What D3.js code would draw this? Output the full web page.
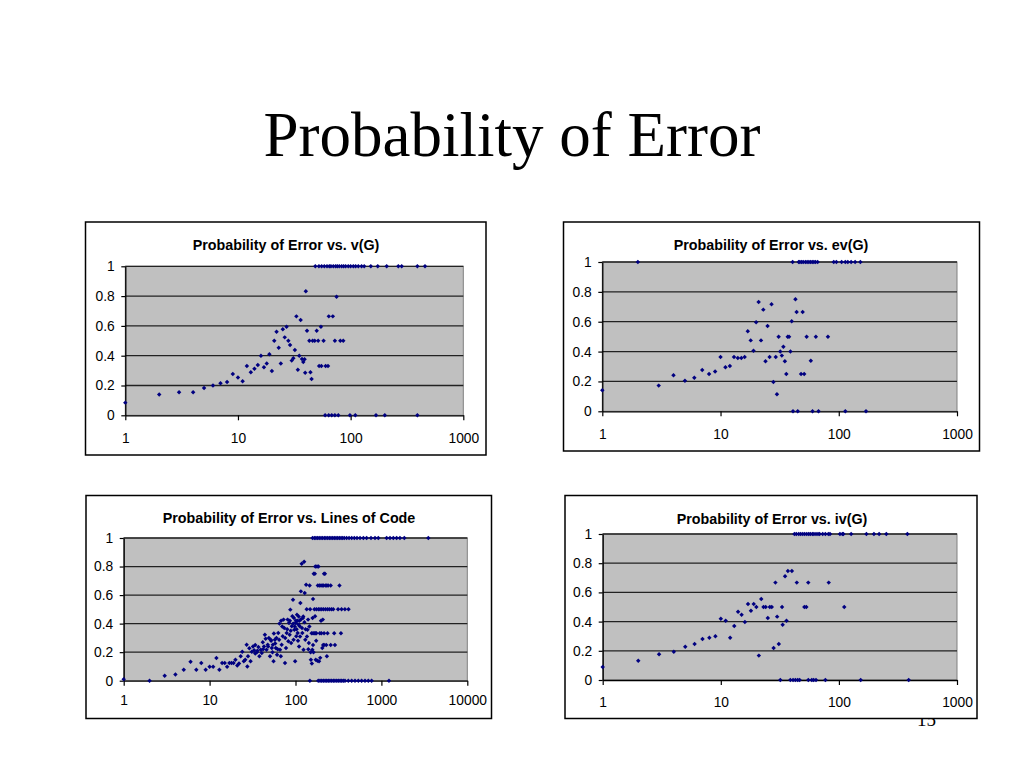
<!DOCTYPE html>
<html>
<head>
<meta charset="utf-8">
<script src="https://cdn.jsdelivr.net/npm/d3@7/dist/d3.min.js"></script>
<style>
  html, body { margin: 0; padding: 0; background: #fff; }
  svg { display: block; }
</style>
</head>
<body>
<svg id="chart" width="1024" height="768"></svg>
<script>
// ---------------- DATA ----------------
const pageTitle = "Probability of Error";
const pageNumber = "15";
const chartTitles = [
  "Probability of Error vs. v(G)",
  "Probability of Error vs. ev(G)",
  "Probability of Error vs. Lines of Code",
  "Probability of Error vs. iv(G)"
];
const yTicks = [0, 0.2, 0.4, 0.6, 0.8, 1];
const xTicks3 = [1, 10, 100, 1000];
const xTicks4 = [1, 10, 100, 1000, 10000];

// v(G) vs probability of error
const vgPoints = [
  [1,0.085],[2,0.139],[3,0.154],[4,0.154],[5,0.183],[6,0.2],[7,0.215],[8,0.224],[9,0.277],[10,0.253],
  [11,0.228],[12,0.331],[13,0.289],[14,0.313],[15,0.338],[16,0.4],[17,0.322],[18,0.347],[19,0.41],[20,0.298],
  [21,0.5],[22,0.56],[23,0.454],[24,0.347],[25,0.577],[26,0.523],[27,0.595],[28,0.5],[29,0.472],[30,0.367],
  [31,0.383],[32,0.438],[33,0.664],[34,0.306],[35,0.4],[36,0.64],[37,0.378],[38,0.358],[39,0.376],[39.5,0.286],
  [40,0.832],[41,0.568],[43,0.5],[44,0.289],[45,0.244],[46,0.5],[48,0.5],[50,0.568],[51.5,0.5],[52.5,0.331],
  [54.5,0.595],[55,0.331],[57.5,0.5],[60,0.331],[63,0.331],[64,0.664],[69.5,0.664],[72.5,0.5],[75,0.796],
  [81,0.5],[86,0.5]
];
const vgOnes = [48.6,52.3,55.3,58.4,61.7,64.7,66.9,70.2,73.6,76.2,79.3,83.2,86.6,90.3,95.3,100,105.6,110.7,117,125,132,151,174,209,265,284,391,457];
const vgZeros = [59.4,63.9,68,72.5,77.7,98.6,110,168,201,391];

// ev(G)
const evPoints = [
  [1,0.141],[2,1],[3,0.172],[4,0.241],[5,0.205],[6,0.225],[7,0.277],[8,0.25],[9,0.266],[10,0.364],
  [11,0.295],[12,0.304],[13,0.364],[14,0.357],[15,0.357],[16,0.364],[17,0.536],[18,0.475],[19,0.406],[20,0.596],
  [21,0.732],[22,0.475],[23,0.681],[24,0.335],[25,0.571],[26,0.364],[27,0.717],[28,0.196],[29.3,0.364],[30,0.114],
  [31,0.5],[32,0.4],[33,0.373],[34,0.433],[35,0.335],[36,0.25],[37,0.5],[38,0.5],[39,0.4],[40,0.603],
  [43,0.75],[44,0.665],[48,0.25],[49.5,0.665],[51,0.25],[53.5,0.5],[58,0.339],[64,0.5],[81,0.5]
];
const evOnes = [40.7,45.8,46.9,48.5,50.1,52.2,54,55.9,57.8,59.7,61.6,63.6,66.3,90.7,95.5,105.7,113.6,119.3,127.2,137.5,152.3];
const evZeros = [41,45,60,67.4,113.6,170];

// Lines of code
const locPoints = [
  [1,0.01],[2,0],[3,0.035],[4,0.044],[5,0.077],[6,0.133],[7,0.077],[8,0.124],[9,0.077],[10,0.098],
  [11,0.098],[12,0.159],[13,0.077],[14,0.124],[15,0.124],[16,0.098],[17,0.124],[18,0.124],[19,0.124],[20,0.147],
  [21,0.107],[22,0.121],[23,0.171],[24,0.203],[25,0.136],[26,0.147],[27,0.252],[27.5,0.1],[28,0.171],[29,0.227],
  [30,0.136],[31,0.203],[32,0.24],[33,0.213],[34,0.25],[35.5,0.2],[37,0.236],[38,0.171],[39.4,0.217],[40.5,0.194],
  [41.6,0.269],[43,0.24],[44,0.322],[45,0.294],[46,0.217],[47.5,0.252],[49,0.299],[50.5,0.171],[51.5,0.287],[53,0.229],
  [54.5,0.252],[55.5,0.136],[57.5,0.287],[59,0.229],[61,0.182],[63,0.334],[64.5,0.287],[66,0.217],[67.5,0.171],[69,0.252],
  [71,0.311],[72.6,0.428],[74,0.369],[75.5,0.124],[77.5,0.229],[79,0.334],[81,0.428],[82.5,0.276],[84,0.404],[85.5,0.322],
  [87,0.498],[89,0.264],[90.5,0.381],[92,0.451],[93.5,0.568],[95,0.287],[97,0.357],[99,0.136],[100.5,0.404],[102,0.311],
  [104,0.463],[106,0.334],[108,0.393],[110,0.24],[112,0.381],[114,0.544],[115.5,0.626],[118,0.82],[120,0.334],[122,0.439],
  [124,0.217],[126,0.834],[128,0.614],[130,0.287],[133,0.673],[135,0.5],[138,0.357],[140,0.428],[143,0.264],[146,0.667],
  [148,0.5],[151,0.147],[154,0.333],[157,0.217],[160,0.572],[163,0.75],[166,0.5],[169,0.451],[172,0.147],[175,0.333],
  [178,0.8],[182,0.667],[185,0.5],[188,0.136],[192,0.333],[198,0.667],[202,0.5],[205,0.229],[208,0.428],[213,0.667],
  [220,0.75],[224,0.5],[228,0.25],[232,0.171],[236,0.333],[240,0.667],[248,0.5],[257,0.25],[257,0.667],[275,0.5],
  [282,0.333],[288,0.25],[313,0.5],[325,0.667],[338,0.333],[344,0.5],[376,0.5],[414,0.5],
  [175,0.5],[193,0.5],[212,0.5],[236,0.5],[262,0.5],[190,0.667],[205,0.667],[225,0.667],[232,0.667],
  [170,0.8],[185,0.8],[168,0.75],[215,0.75],[160,0.333],[165,0.333],[170,0.333],[200,0.333],[215,0.333],
  [160,0.25],[210,0.25],[215,0.25],
  [65,0.4],[68,0.42],[70,0.38],[76,0.3],[80,0.36],[86,0.42],[88,0.35],[94,0.4],[96,0.44],[98,0.38],
  [101,0.42],[103,0.36],[105,0.42],[107,0.28],[109,0.45],[111,0.42],[113,0.31],[116,0.43],[119,0.37],[123,0.45],
  [127,0.41],[131,0.36],[136,0.31],[141,0.22],[145,0.38],[150,0.2],[155,0.12],[158,0.44],[162,0.2],[174,0.28],
  [180,0.14],[194,0.16],[198,0.42],[60,0.3],[58,0.26],[62,0.22],[52,0.28],[48,0.24],[42,0.22],[36,0.21],
  [34,0.19],[56,0.33],[54,0.2]
];
const locOnes = [158,166,173,181,189,198,207,217,226,237,248,259,271,283,296,310,324,339,354,370,394,420,451,484,520,564,617,673,757,842,921,1150,1259,1376,1504,1645,1849,3516];
const locZeros = [147,184,193,202,211,221,231,241,252,264,276,288,302,315,330,345,360,377,412,451,493,539,589,644,704,770,1225];

// iv(G)
const ivPoints = [
  [1,0.089],[2,0.132],[3,0.176],[4,0.194],[5,0.228],[6,0.247],[7,0.281],[8,0.29],[9,0.299],[10,0.42],
  [11,0.406],[12,0.29],[13,0.37],[14,0.468],[15,0.447],[16,0.397],[17,0.52],[18,0.475],[19,0.52],[20,0.5],
  [21,0.167],[22,0.555],[23,0.5],[24,0.5],[25,0.425],[26,0.5],[27,0.5],[28,0.219],[29,0.667],[30,0.434],
  [31,0.247],[33,0.5],[33.4,0.379],[35,0.71],[36,0.406],[37,0.747],[40,0.747],[44,0.667],[51,0.5],[53,0.5],
  [55,0.667],[82,0.667],[111,0.5]
];
const ivOnes = [42,43.6,45.7,47.5,49.4,51.3,53.4,55.5,57.3,59.6,61.5,64,66.5,68.7,72.9,76.8,81.4,84.1,102,107,109,127,171,198,219,252,380];
const ivZeros = [31.9,38.8,40.9,42.8,44.8,46.5,55.1,58.9,61.1,64,76.8,153,390];

// ---------------- DRAW ----------------
const svg = d3.select("#chart");
svg.append("rect").attr("width", 1024).attr("height", 768).attr("fill", "#fff");

svg.append("text")
  .attr("x", 512).attr("y", 156)
  .attr("text-anchor", "middle")
  .attr("font-family", "'Liberation Serif','Times New Roman',serif")
  .attr("font-size", 63)
  .attr("fill", "#000")
  .text(pageTitle);

svg.append("text")
  .attr("x", 936).attr("y", 726)
  .attr("text-anchor", "end")
  .attr("font-family", "'Liberation Serif','Times New Roman',serif")
  .attr("font-size", 19)
  .attr("fill", "#000")
  .text(pageNumber);

function withRows(points, ones, zeros) {
  return points.concat(ones.map(v => [v, 1]), zeros.map(v => [v, 0]));
}

const charts = [
  { title: chartTitles[0], data: withRows(vgPoints, vgOnes, vgZeros), ticks: xTicks3,
    box: [85.5, 222, 486, 455], plot: [125.3, 266.3, 463.3, 415.3], titleX: 286, titleY: 250, xPad: 12.5 },
  { title: chartTitles[1], data: withRows(evPoints, evOnes, evZeros), ticks: xTicks3,
    box: [563.5, 222, 979.5, 451], plot: [602.3, 262, 957, 411.3], titleX: 771, titleY: 250, xPad: 13 },
  { title: chartTitles[2], data: withRows(locPoints, locOnes, locZeros), ticks: xTicks4,
    box: [86, 495.5, 491.5, 718.5], plot: [123.7, 538, 467.3, 680.7], titleX: 289, titleY: 522.5, xPad: 9.5 },
  { title: chartTitles[3], data: withRows(ivPoints, ivOnes, ivZeros), ticks: xTicks3,
    box: [565, 495.5, 977, 718.5], plot: [602.7, 534, 957, 680], titleX: 772, titleY: 524, xPad: 12 }
];

const fontSans = "'Liberation Sans', Arial, sans-serif";
const yFmt = d => d === 0 ? "0" : d === 1 ? "1" : d3.format(".1f")(d);
const marker = d3.symbol(d3.symbolSquare, 10);

charts.forEach(c => {
  const g = svg.append("g");
  const [bx0, by0, bx1, by1] = c.box;
  const [pl, pt, pr, pb] = c.plot;

  g.append("rect")
    .attr("x", bx0).attr("y", by0).attr("width", bx1 - bx0).attr("height", by1 - by0)
    .attr("fill", "#fff").attr("stroke", "#000").attr("stroke-width", 1.5);

  g.append("text")
    .attr("x", c.titleX).attr("y", c.titleY)
    .attr("text-anchor", "middle")
    .attr("font-family", fontSans).attr("font-weight", "bold").attr("font-size", 14.3)
    .attr("fill", "#000")
    .text(c.title);

  const x = d3.scaleLog().domain([c.ticks[0], c.ticks[c.ticks.length - 1]]).range([pl, pr]);
  const y = d3.scaleLinear().domain([0, 1]).range([pb, pt]);

  g.append("rect")
    .attr("x", pl).attr("y", pt).attr("width", pr - pl).attr("height", pb - pt)
    .attr("fill", "#c0c0c0").attr("stroke", "#808080").attr("stroke-width", 1);

  g.append("g").selectAll("line")
    .data(yTicks.filter(t => t > 0))
    .join("line")
    .attr("x1", pl).attr("x2", pr)
    .attr("y1", d => y(d)).attr("y2", d => y(d))
    .attr("stroke", "#222").attr("stroke-width", 1.3);

  const ya = g.append("g")
    .attr("transform", `translate(${pl},0)`)
    .call(d3.axisLeft(y).tickValues(yTicks).tickFormat(yFmt).tickSize(4).tickSizeOuter(0).tickPadding(6.5));
  const xa = g.append("g")
    .attr("transform", `translate(0,${pb})`)
    .call(d3.axisBottom(x).tickValues(c.ticks).tickFormat(d3.format("d")).tickSize(5).tickSizeOuter(0).tickPadding(c.xPad));

  [ya, xa].forEach(a => {
    a.attr("font-family", fontSans).attr("font-size", 13.8);
    a.selectAll("path.domain").attr("stroke", "#000").attr("stroke-width", 1.3);
    a.selectAll(".tick line").attr("stroke", "#000").attr("stroke-width", 1.2);
    a.selectAll(".tick text").attr("fill", "#000");
  });

  g.append("g").selectAll("path")
    .data(c.data)
    .join("path")
    .attr("d", marker)
    .attr("transform", d => `translate(${x(d[0])},${y(d[1])}) rotate(45)`)
    .attr("fill", "#000080");
});
</script>
</body>
</html>
